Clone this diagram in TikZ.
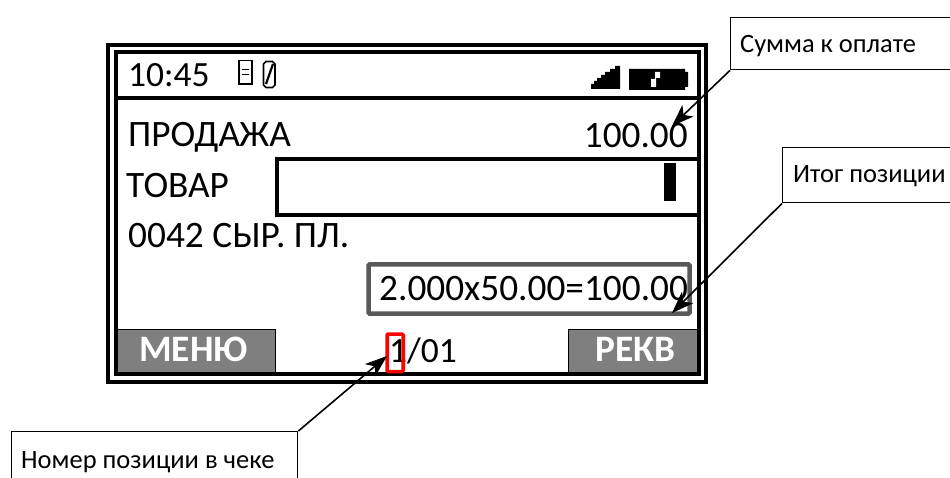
\documentclass[tikz,border=0pt]{standalone}
\usepackage{fontspec}
\setmainfont{Carlito}
\usetikzlibrary{arrows.meta}
\definecolor{btn}{HTML}{7F7F7F}
\definecolor{grayframe}{HTML}{595959}
\tikzset{
  x=1pt,y=-1pt,
  frameline/.style={draw=black,line width=4pt},
  lcd/.style={inner sep=0pt,font=\fontsize{37.3}{37.3}\selectfont,text=black},
  lcdsmall/.style={inner sep=0pt,font=\fontsize{35.5}{35.5}\selectfont,text=black},
  softkey/.style={inner sep=0pt,font=\fontsize{37.3}{37.3}\selectfont\bfseries,text=white},
  callout/.style={draw=black,line width=1.4pt,fill=white,minimum height=0pt,inner sep=0pt},
  calltext/.style={inner sep=0pt,font=\fontsize{26.5}{26.5}\selectfont,text=black},
  pointer/.style={draw=black,line width=1.6pt,-{Stealth[length=22pt,width=16pt,inset=6pt]}},
}
\begin{document}
\begin{tikzpicture}
\useasboundingbox (0,0) rectangle (950,478);
\clip (0,0) rectangle (950,478);
% outer and inner frames
\draw[frameline,line cap=butt] (108,45) rectangle (706,382);
\draw[frameline] (116,52.5) rectangle (699,374);
\draw[frameline] (116,98) -- (699,98);
% softkeys
\path[fill=btn] (118,330) rectangle (275,372);
\path[fill=btn] (569,330) rectangle (697,372);
\draw[black,line width=1.5pt] (118,329.5) -- (275.5,329.5) -- (275.5,372);
\draw[black,line width=1.5pt] (568.5,372) -- (568.5,329.5) -- (697,329.5);
% input box
\draw[frameline] (276.5,159) rectangle (699,215);
\path[fill=black] (664,163) rectangle (676,201);
% total box
\draw[draw=grayframe,line width=4.5pt,rounded corners=1pt] (368.5,264.5) rectangle (689.5,313.5);
% status icons
\draw[black,line width=1.5pt] (239,60.5) rectangle (252,84);
\draw[black,line width=1.5pt] (242,69.5) -- (249,69.5) (242,74.5) -- (249,74.5);
\draw[black,line width=1.6pt] (263.5,64) -- (266,61.5) -- (272.5,61.5) -- (275,64) -- (275,85) -- (272.5,87.5) -- (266,87.5) -- (263.5,85) -- cycle;
\draw[black,line width=2.2pt] (266,84) -- (273,64);
\path[fill=black] (591,89) -- (591,84) -- (594,84) -- (594,81) -- (597,81) -- (597,78) -- (601,78) -- (601,75) -- (605,75) -- (605,72) -- (610,72) -- (610,69) -- (615,69) -- (615,66) -- (620,66) -- (620,89) -- cycle;
\path[fill=black] (629,69) -- (685,69) -- (685,72) -- (688,72) -- (688,87) -- (685,87) -- (685,90) -- (629,90) -- cycle;
\path[fill=white] (655,72) -- (660,72) -- (660,78) -- (656,78) -- (656,87) -- (651,87) -- (651,79) -- (655,79) -- cycle;
% screen text
\node[lcdsmall,anchor=base west] (clock) at (128,87) {10:45};
\node[lcd,anchor=base west] (sale) at (128,147) {ПРОДАЖА};
\node[lcd,anchor=base east] (amount) at (688,148) {100.00};
\node[lcd,anchor=base west] (goods) at (126,198) {ТОВАР};
\node[lcd,anchor=base west] (item) at (128,248) {0042 СЫР. ПЛ.};
\node[lcd,anchor=base west] (calc) at (379,301) {2.000x50.00=100.00};
\node[lcdsmall,anchor=base west] (pos) at (389,362) {1/01};
\node[softkey,anchor=base] (menu) at (193.5,361) {МЕНЮ};
\node[softkey,anchor=base] (rekv) at (635.5,361) {РЕКВ};
% red marker
\draw[red,line width=3.5pt,rounded corners=1pt] (387,334) rectangle (403,371.5);
% callouts
\node[callout,anchor=north west,minimum width=240pt,minimum height=52pt] (sumbox) at (730,17) {};
\node[callout,anchor=north west,minimum width=190pt,minimum height=55pt] (totbox) at (782,147) {};
\node[callout,anchor=north west,minimum width=286pt,minimum height=70pt] (numbox) at (11,431) {};
\node[calltext,anchor=base west] (sumtext) at (740,53) {Сумма к оплате};
\node[calltext,anchor=base west] (tottext) at (793,183) {Итог позиции};
\node[calltext,anchor=base west] (numtext) at (21,468) {Номер позиции в чеке};
\coordinate (sumtip) at (672,126);
\coordinate (tottip) at (672,313);
\coordinate (numtip) at (387,356);
\draw[pointer] (sumbox.south west) -- (sumtip);
\draw[pointer] (totbox.south west) -- (tottip);
\draw[pointer] (numbox.north east) -- (numtip);
\end{tikzpicture}
\end{document}
